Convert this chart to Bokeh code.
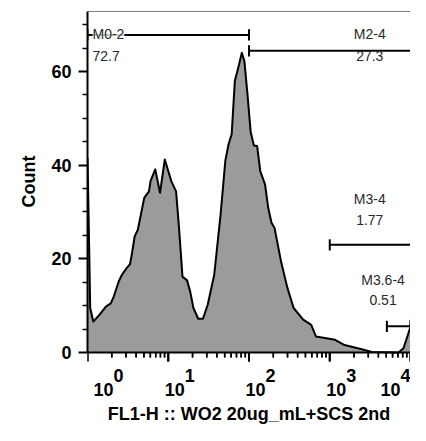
import math
from bokeh.plotting import figure
from bokeh.models import Range1d, FixedTicker, Label, Span, Title
from bokeh.embed import file_html
from bokeh.resources import INLINE

# ---------------- data ----------------
fl1_h = [1.00, 1.03, 1.08, 1.18, 1.41, 1.69, 1.94, 2.12, 2.44, 2.67, 3.05, 3.35,
         3.50, 3.84, 4.20, 4.59, 5.04, 5.77, 6.03, 6.90, 7.91, 9.06, 10.9, 12.5,
         13.6, 15.0, 17.1, 18.7, 20.5, 23.5, 26.9, 30.8, 37.1, 44.5, 50.9, 55.7,
         61.0, 66.8, 73.1, 81.5, 87.7, 95.9, 105, 115, 126, 138, 158, 173, 190,
         207, 249, 299, 357, 469, 590, 676, 1164, 1528, 2636, 3304, 7079, 8185,
         8974, 9886, 10000]
count = [41.5, 30.0, 9.5, 6.6, 8.1, 9.8, 10.5, 12.0, 15.2, 16.6, 18.0, 18.8,
         20.5, 24.8, 26.2, 29.5, 33.0, 34.4, 36.6, 39.1, 34.1, 41.2, 36.6, 34.4,
         26.6, 16.2, 15.4, 13.0, 9.5, 7.2, 7.2, 10.2, 16.6, 29.5, 40.9, 44.4,
         46.6, 58.0, 60.6, 64.0, 62.2, 55.0, 47.0, 44.2, 44.1, 38.7, 35.9, 30.9,
         27.7, 26.6, 19.5, 13.8, 9.5, 7.0, 5.9, 3.4, 2.7, 1.6, 0.6, 0.1, 0.0,
         0.9, 3.0, 5.2, 7.0]

x_tick_values = [1, 10, 100, 1000, 10000]
x_tick_exponents = ["0", "1", "2", "3", "4"]
x_minor_ticks = [m * 10 ** d for d in range(4) for m in range(2, 10)]
y_tick_values = [0, 20, 40, 60]
y_minor_ticks = [5, 10, 15, 25, 30, 35, 45, 50, 55, 65, 70]

gate_names = ["M0-2", "M2-4", "M3-4", "M3.6-4"]
gate_pcts = ["72.7", "27.3", "1.77", "0.51"]
gate_lo = [1, 100, 1000, 5100]
gate_hi = [100, 16000, 16000, 16000]
gate_level = [67.8, 64.4, 23.0, 5.6]

x_title = "FL1-H :: WO2 20ug_mL+SCS 2nd"
y_title = "Count"

# ---------------- layout / style ----------------
W, H = 410, 425
TOP, LEFT, ZERO_Y = 11, 87, 352   # canvas pixels: frame top, frame left, y of count 0
Y_END = 72.8
PPU = (ZERO_Y - TOP) / Y_END       # pixels per count unit
Y_START = -(H - ZERO_Y) / PPU      # room below zero for x tick labels and title
FONT = "Liberation Sans"
cap_half = 1.2
MAJOR_TICK = 9 / PPU
MINOR_TICK = 5 / PPU

gate_label_x = [1, 3130, 3130, 4570]
gate_label_dx = [5, 0, 0, 0]
gate_label_align = ["left", "center", "center", "center"]
gate_name_y = [68.0, 68.0, 32.8, 15.5]
gate_pct_y = [63.3, 63.3, 28.3, 11.2]

base_dx = [6, -3.5, -3.5, -3.5, -30]
sup_dx = [26, 16.5, 16.5, 16.5, -10]

p = figure(width=W, height=H, x_axis_type="log", x_axis_location=None,
           x_range=Range1d(1, 10000), y_range=Range1d(Y_START, Y_END),
           output_backend="svg", toolbar_location=None,
           min_border_left=LEFT, min_border_right=0,
           min_border_top=TOP, min_border_bottom=0)
p.outline_line_color = None
p.grid.visible = False
p.background_fill_color = "white"
p.border_fill_color = "white"

xs = [fl1_h[0]] + fl1_h + [fl1_h[-1]]
ys = [0] + count + [0]
p.patch(xs, ys, fill_color="#9b9b9b", line_color=None)
p.line(fl1_h, count, line_color="black", line_width=2, line_join="round")

# gates
p.segment(x0=gate_lo, y0=gate_level, x1=gate_hi, y1=gate_level,
          line_color="black", line_width=2)
p.segment(x0=gate_lo, y0=[v - cap_half for v in gate_level],
          x1=gate_lo, y1=[v + cap_half for v in gate_level],
          line_color="black", line_width=2)
p.segment(x0=gate_hi, y0=[v - cap_half for v in gate_level],
          x1=gate_hi, y1=[v + cap_half for v in gate_level],
          line_color="black", line_width=2)

for i in range(len(gate_names)):
    kw = dict(text_font=FONT, text_font_size="14px", text_color="#2a2a2a",
              text_align=gate_label_align[i], text_baseline="middle",
              x_offset=gate_label_dx[i])
    bg = dict(background_fill_color="white", background_fill_alpha=0.8) if i == 0 else {}
    p.add_layout(Label(x=gate_label_x[i], y=gate_name_y[i], text=gate_names[i], **kw, **bg))
    p.add_layout(Label(x=gate_label_x[i], y=gate_pct_y[i], text=gate_pcts[i], **kw))

# top border of the frame
p.add_layout(Span(location=Y_END, dimension="width", line_color="black", line_width=1))

# x axis at count 0 (log scale), ticks pointing down
p.add_layout(Span(location=0, dimension="width", line_color="black", line_width=2))
p.segment(x0=x_tick_values, y0=[0.0] * len(x_tick_values),
          x1=x_tick_values, y1=[-MAJOR_TICK] * len(x_tick_values),
          line_color="black", line_width=2)
p.segment(x0=x_minor_ticks, y0=[0.0] * len(x_minor_ticks),
          x1=x_minor_ticks, y1=[-MINOR_TICK] * len(x_minor_ticks),
          line_color="black", line_width=1.5)
p.scatter(x=x_tick_values, y=[-MAJOR_TICK / 2] * len(x_tick_values), marker="dash",
          size=9, angle=math.pi / 2, line_color="black", line_width=2)
p.scatter(x=x_minor_ticks, y=[-MINOR_TICK / 2] * len(x_minor_ticks), marker="dash",
          size=5, angle=math.pi / 2, line_color="black", line_width=1.5)

ya = p.yaxis[0]
ya.bounds = (0, Y_END)
ya.ticker = FixedTicker(ticks=y_tick_values, minor_ticks=y_minor_ticks)
ya.axis_line_width = 2
ya.major_tick_in = 0
ya.major_tick_out = 9
ya.minor_tick_in = 0
ya.minor_tick_out = 5
ya.major_tick_line_width = 2
ya.minor_tick_line_width = 1.5
ya.major_label_standoff = 7
ya.major_label_text_font = FONT
ya.major_label_text_font_style = "bold"
ya.major_label_text_font_size = "18px"
ya.major_label_text_color = "black"

p.add_layout(Title(text=y_title, align="left", offset=218, standoff=20,
                   text_font=FONT, text_font_style="bold", text_font_size="18px",
                   text_color="black"), "left")

for i, tv in enumerate(x_tick_values):
    p.add_layout(Label(x=tv, y=-37 / PPU, text="10", x_offset=base_dx[i],
                       text_font=FONT, text_font_style="bold", text_font_size="18px",
                       text_align="left", text_baseline="middle", text_color="black"))
    p.add_layout(Label(x=tv, y=-23 / PPU, text=x_tick_exponents[i], x_offset=sup_dx[i],
                       text_font=FONT, text_font_style="bold", text_font_size="18px",
                       text_align="left", text_baseline="middle", text_color="black"))

p.add_layout(Label(x=100, y=-61 / PPU, text=x_title,
                   text_font=FONT, text_font_style="bold", text_font_size="18px",
                   text_align="center", text_baseline="middle", text_color="black"))

open("out.html", "w").write(file_html(p, INLINE))
